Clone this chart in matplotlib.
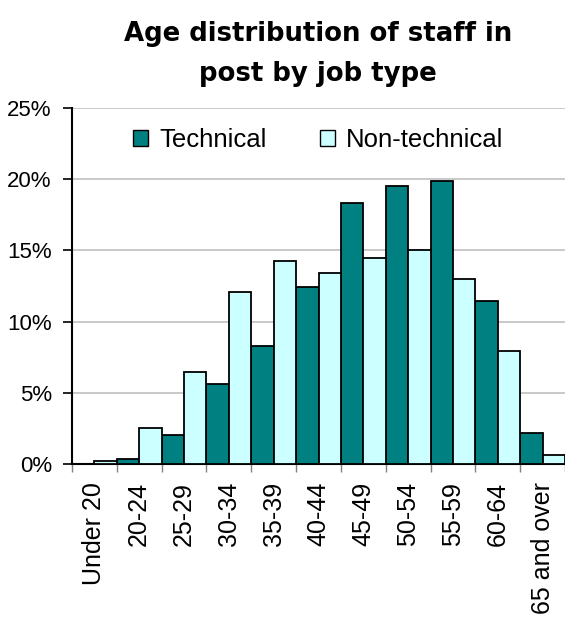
import numpy as np
import matplotlib.pyplot as plt
from matplotlib.patches import Patch

# Datos del gráfico
age_groups = ["Under 20", "20-24", "25-29", "30-34", "35-39", "40-44",
              "45-49", "50-54", "55-59", "60-64", "65 and over"]
technical = [0.0, 0.33, 2.04, 5.6, 8.26, 12.4, 18.36, 19.53, 19.86, 11.46, 2.16]
non_technical = [0.23, 2.5, 6.43, 12.06, 14.25, 13.43, 14.48, 15.05, 12.98, 7.91, 0.66]

col_tech = "#008080"
col_non = "#CCFFFF"

fig = plt.figure(figsize=(5.65, 6.19), dpi=100)
ax = fig.add_axes([72 / 565, 1 - 464 / 619, 493 / 565, 356 / 619])

x = np.arange(len(age_groups))
w = 0.5
ax.bar(x - w / 2, technical, width=w, color=col_tech, edgecolor="black", linewidth=1.3, zorder=3)
ax.bar(x + w / 2, non_technical, width=w, color=col_non, edgecolor="black", linewidth=1.3, zorder=3)

ax.set_xlim(-0.5, len(age_groups) - 0.5)
ax.set_ylim(0, 25)
ax.set_yticks([0, 5, 10, 15, 20, 25])
ax.set_yticklabels([f"{v}%" for v in [0, 5, 10, 15, 20, 25]],
                   fontsize=16, family="Liberation Sans")
ax.grid(axis="y", color="#c0c0c0", linewidth=1.2, zorder=0)

# Etiquetas centradas y marcas en los límites de cada grupo
ax.set_xticks(x)
ax.set_xticklabels(age_groups, rotation=90, fontsize=18, family="Liberation Sans")
ax.tick_params(axis="x", which="major", length=0, pad=13)
ax.set_xticks(np.arange(-0.5, len(age_groups)), minor=True)
ax.tick_params(axis="x", which="minor", length=6, width=1, color="#808080", direction="out")
ax.tick_params(axis="y", length=6.5, width=1.2, pad=8)

for s in ["top", "right"]:
    ax.spines[s].set_visible(False)
ax.spines["left"].set_linewidth(1.5)
ax.spines["bottom"].set_linewidth(1.5)

# Título en dos líneas
title_font = dict(fontsize=18.7, fontweight="bold", family="DejaVu Sans",
                  ha="center", va="baseline")
fig.text(318 / 565, 1 - 41 / 619, "Age distribution of staff in", **title_font)
fig.text(318 / 565, 1 - 81 / 619, "post by job type", **title_font)

handles = [Patch(facecolor=col_tech, edgecolor="black", label="Technical"),
           Patch(facecolor=col_non, edgecolor="black", label="Non-technical")]
ax.legend(handles=handles, loc="center left", bbox_to_anchor=((133 - 72) / 493, 0.91), ncol=2,
          frameon=False, prop={"family": "Liberation Sans", "size": 18.5},
          handlelength=0.58, handleheight=0.58, handletextpad=0.43, columnspacing=2.1,
          borderpad=0, borderaxespad=0)

fig.savefig("out.png", dpi=100)
